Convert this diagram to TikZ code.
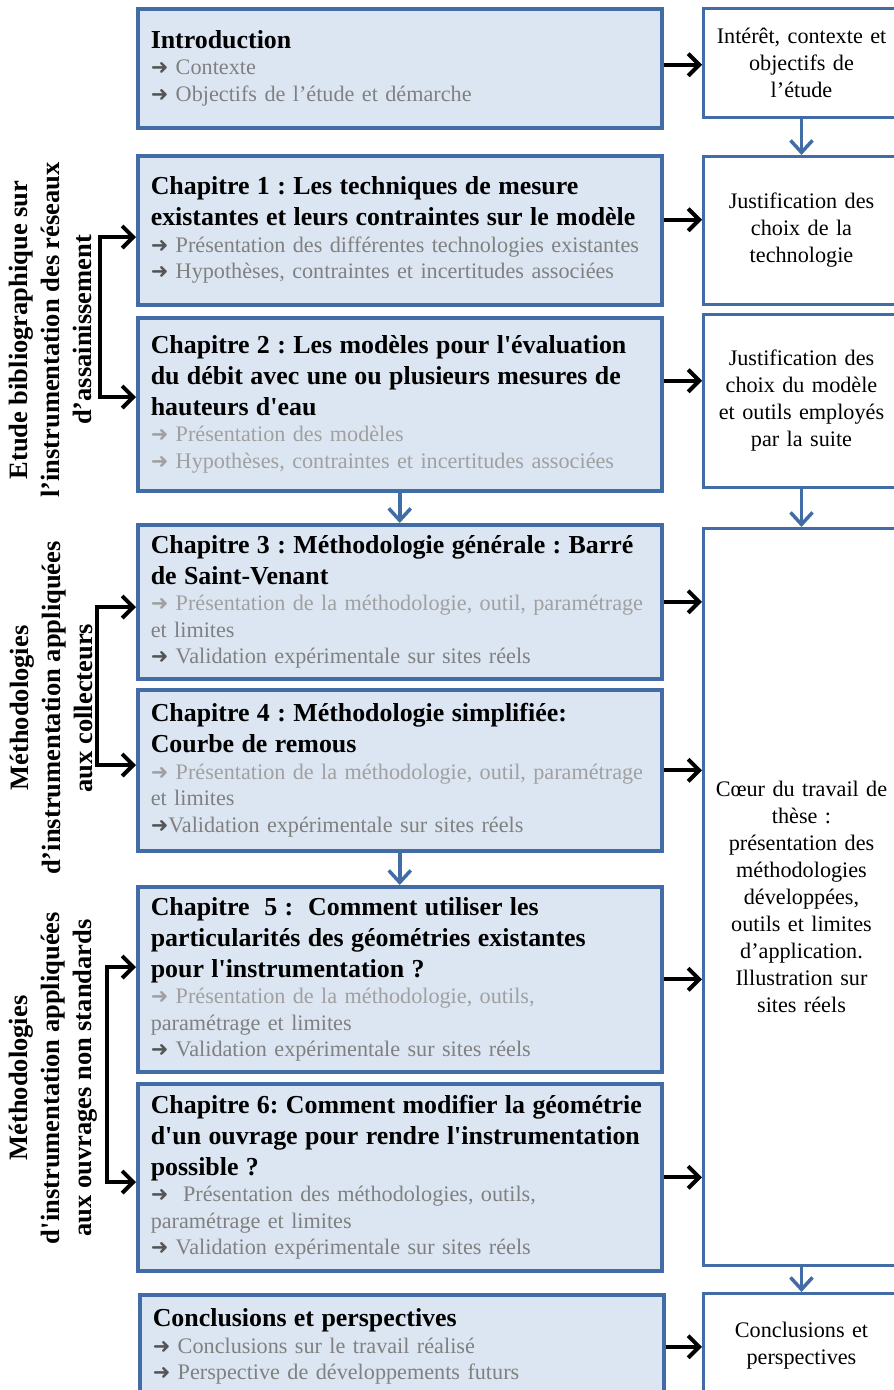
\documentclass[tikz,border=0pt]{standalone}
\usepackage{fontspec}
\setmainfont{Liberation Serif}
\newfontfamily\arrowfont{DejaVu Sans}
\usetikzlibrary{arrows.meta}
\frenchspacing
\definecolor{boxblue}{RGB}{65,108,165}
\definecolor{boxfill}{RGB}{220,230,242}
\definecolor{itemgray}{RGB}{128,128,128}
\definecolor{itemlight}{RGB}{160,160,160}
\definecolor{arrowgray}{RGB}{85,85,85}
\newcommand{\titlefont}{\fontsize{25.9}{31}\selectfont\bfseries}
\newcommand{\itemfont}{\fontsize{22.2}{26.5}\selectfont}
\newcommand{\sidefont}{\fontsize{22.2}{27}\selectfont}
\newcommand{\groupfont}{\fontsize{26.5}{32}\selectfont\bfseries}
\newcommand{\arr}[1][arrowgray]{{\arrowfont\fontsize{21}{21}\selectfont\color{#1}➜}}
\newcommand{\chtitle}[1]{{\color{black}\titlefont #1\par}}
\newcommand{\sq}{\textquotesingle}

\begin{document}
\begin{tikzpicture}[x=1pt,y=-1pt,
  >={Straight Barb[length=11pt,width=22pt]},
  chapbox/.style={draw=boxblue,line width=3.5pt,fill=boxfill,anchor=north west,
    minimum width=524pt,text width=498pt,inner xsep=13pt,inner ysep=0pt,
    align=left,font=\itemfont,text=itemgray},
  sidebox/.style={draw=boxblue,line width=3pt,fill=white,anchor=north west,
    minimum width=196pt,text width=184pt,inner xsep=6pt,inner ysep=0pt,
    align=center,font=\sidefont},
  groupbox/.style={rotate=90,align=center,font=\groupfont},
  blackarr/.style={black,line width=4pt,->},
  bracket/.style={black,line width=4pt,<->},
  bluearr/.style={boxblue,line width=3.5pt,-{Straight Barb[length=12pt,width=22pt]}}]
\useasboundingbox (0,0) rectangle (894,1390);

\node[chapbox,minimum height=119pt] (intro) at (136,7) {\chtitle{Introduction}\arr\ Contexte\\\arr\ Objectifs de l’étude et démarche};
\node[chapbox,minimum height=149pt] (ch1) at (136,154) {\chtitle{Chapitre 1 : Les techniques de mesure\\existantes et leurs contraintes sur le modèle}\arr\ Présentation des différentes technologies existantes\\\arr\ Hypothèses, contraintes et incertitudes associées};
\node[chapbox,minimum height=173pt] (ch2) at (136,316) {\chtitle{Chapitre 2 : Les modèles pour l\sq évaluation\\du débit avec une ou plusieurs mesures de\\hauteurs d\sq eau}{\color{itemlight}\arr[itemlight]\ Présentation des modèles\\\arr[itemlight]\ Hypothèses, contraintes et incertitudes associées}};
\node[chapbox,minimum height=154pt] (ch3) at (136,523) {\chtitle{Chapitre 3 : Méthodologie générale : Barré\\de Saint-Venant}{\color{itemlight}\arr[itemlight]\ Présentation de la méthodologie, outil, paramétrage\par}et limites\\\arr\ Validation expérimentale sur sites réels};
\node[chapbox,minimum height=161pt] (ch4) at (136,688) {\chtitle{Chapitre 4 : Méthodologie simplifiée:\\Courbe de remous}{\color{itemlight}\arr[itemlight]\ Présentation de la méthodologie, outil, paramétrage\par}et limites\\\arr Validation expérimentale sur sites réels};
\node[chapbox,minimum height=185pt] (ch5) at (136,885) {\chtitle{Chapitre\ \ 5 :\ \ Comment utiliser les\\particularités des géométries existantes\\pour l\sq instrumentation ?}{\color{itemlight}\arr[itemlight]\ Présentation de la méthodologie, outils,\par}paramétrage et limites\\\arr\ Validation expérimentale sur sites réels};
\node[chapbox,minimum height=187pt] (ch6) at (136,1082) {\chtitle{Chapitre 6: Comment modifier la géométrie\\d\sq un ouvrage pour rendre l\sq instrumentation\\possible ?}\arr\ \ Présentation des méthodologies, outils,\\paramétrage et limites\\\arr\ Validation expérimentale sur sites réels};
\node[chapbox,minimum height=104pt] (concl) at (138,1293) {\chtitle{Conclusions et perspectives}\arr\ Conclusions sur le travail réalisé\\\arr\ Perspective de développements futurs};

\node[sidebox,minimum height=109pt] (r1) at (702,7) {Intérêt, contexte et\\objectifs de\\l’étude};
\node[sidebox,minimum height=148pt] (r2) at (702,155) {Justification des\\choix de la\\technologie};
\node[sidebox,minimum height=173pt] (r3) at (702,313) {Justification des\\choix du modèle\\et outils employés\\par la suite};
\node[sidebox,minimum height=737pt] (r4) at (702,527) {Cœur du travail de\\thèse :\\présentation des\\méthodologies\\développées,\\outils et limites\\d’application.\\Illustration sur\\sites réels};
\node[sidebox,minimum height=104pt] (r5) at (702,1292) {Conclusions et\\perspectives};

\node[groupbox] (g1) at (50,330) {Etude bibliographique sur\\l’instrumentation des réseaux\\d’assainissement};
\node[groupbox] (g2) at (51,708) {Méthodologies\\d’instrumentation appliquées\\aux collecteurs};
\node[groupbox] (g3) at (53,1078) {Méthodologies\\d\sq instrumentation appliquées\\aux ouvrages non standards};

\coordinate (g1a) at (100,237);
\coordinate (g1b) at (100,397);
\coordinate (g2a) at (97,607);
\coordinate (g2b) at (97,765);
\coordinate (g3a) at (107,967);
\coordinate (g3b) at (107,1182);
\draw[bracket] (g1a -| ch1.west) -- (g1a) -- (g1b) -- (g1b -| ch2.west);
\draw[bracket] (g2a -| ch3.west) -- (g2a) -- (g2b) -- (g2b -| ch4.west);
\draw[bracket] (g3a -| ch5.west) -- (g3a) -- (g3b) -- (g3b -| ch6.west);

\draw[blackarr] ([yshift=3.5pt]intro.east) -- ([yshift=3.5pt]intro.east -| r1.west);
\draw[blackarr] ([yshift=10.5pt]ch1.east) -- ([yshift=10.5pt]ch1.east -| r2.west);
\draw[blackarr] ([yshift=23.5pt]ch2.east) -- ([yshift=23.5pt]ch2.east -| r3.west);
\draw[blackarr] (ch3.east) -- (ch3.east -| r4.west);
\draw[blackarr] (ch4.east) -- (ch4.east -| r4.west);
\draw[blackarr] (ch5.east) -- (ch5.east -| r4.west);
\draw[blackarr] (ch6.east) -- (ch6.east -| r4.west);
\draw[blackarr] (concl.east) -- (concl.east -| r5.west);

\draw[bluearr] (ch2) -- (ch3);
\draw[bluearr] (ch4) -- (ch5);
\draw[bluearr] (r1) -- (r2);
\draw[bluearr] (r3) -- (r4);
\draw[bluearr] (r4) -- (r5);
\end{tikzpicture}
\end{document}
